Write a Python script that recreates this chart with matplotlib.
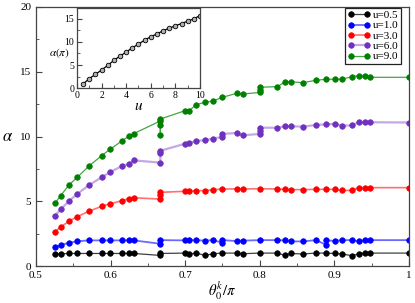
import matplotlib
matplotlib.use("Agg")
import matplotlib.pyplot as plt
from matplotlib.ticker import MultipleLocator

plt.rcParams['font.family'] = ['Liberation Serif', 'DejaVu Serif']
plt.rcParams['mathtext.fontset'] = 'stix'

# base theta_0^k / pi positions
theta = [0.5255, 0.533, 0.5446, 0.5554, 0.5706, 0.588, 0.599, 0.615, 0.6247, 0.631,
         0.6667, 0.6997, 0.7055, 0.7145, 0.727, 0.737, 0.75, 0.769, 0.777, 0.8,
         0.8235, 0.8338, 0.8418, 0.8575, 0.8753, 0.8887, 0.9004, 0.9098, 0.9236,
         0.9333, 0.941, 0.9477, 1.0]

labels = ['u=0.5', 'u=1.0', 'u=3.0', 'u=6.0', 'u=9.0']

# number of points sitting at the same theta (default 1)
rep_u05 = {0.6667: 2}
rep_u10 = {0.6667: 2, 0.75: 2, 0.8887: 2}
rep_u30 = {0.6667: 3}
rep_u60 = {0.6667: 3, 0.75: 2, 0.8: 3}
rep_u90 = {0.6667: 4, 0.8: 3}

alpha_u05 = [0.90, 0.95, 0.97, 0.97, 0.97, 0.97, 0.97, 0.97, 0.97, 0.97,
             0.82, 0.97,
             1.00, 0.93, 1.00, 0.82, 0.95, 1.00, 1.00, 0.95, 1.00, 1.00, 0.82,
             0.97, 0.93, 1.00, 1.00, 0.97, 0.93, 0.80, 0.95, 1.00, 1.00, 1.00]
alpha_u10 = [1.44, 1.62, 1.80, 1.91, 1.98, 1.98, 1.98, 1.98, 1.98, 1.98,
             1.72, 2.00,
             1.98, 2.00, 2.00, 1.96, 2.00, 1.80, 2.00, 1.93, 1.96, 2.00, 2.00,
             1.98, 1.90, 1.90, 2.00, 1.65, 2.00, 1.93, 2.00, 2.00, 1.90, 2.00,
             2.00, 2.00]
alpha_u30 = [2.65, 3.01, 3.47, 3.81, 4.22, 4.61, 4.79, 5.04, 5.20, 5.27,
             5.17, 5.48, 5.69,
             5.77, 5.77, 5.82, 5.82, 5.89, 5.95, 5.95, 5.95, 5.97, 5.95, 5.92,
             5.90, 5.90, 5.92, 5.92, 5.92, 5.84, 5.84, 6.05, 6.00, 6.05, 6.05]
alpha_u60 = [3.89, 4.37, 5.04, 5.56, 6.23, 6.85, 7.23, 7.72, 7.88, 8.16,
             7.98, 8.75, 8.90,
             9.44, 9.50, 9.65, 9.73, 9.83, 9.98, 10.20, 10.27, 10.09,
             10.20, 10.45, 10.68, 10.68, 10.78, 10.79, 10.76, 10.89, 10.94,
             10.97, 10.84, 10.86, 11.12, 11.10, 11.10, 11.08]
alpha_u90 = [4.84, 5.43, 6.28, 6.85, 7.70, 8.52, 9.00, 9.65, 10.04, 10.22,
             11.20, 10.09, 10.90, 11.35,
             11.99, 11.99, 12.46, 12.64, 12.74, 13.03, 13.33, 13.28,
             13.40, 13.60, 13.80, 13.85, 14.21, 14.23, 14.15, 14.34, 14.42,
             14.42, 14.42, 14.62, 14.70, 14.65, 14.57, 14.57]

# inset data: alpha(pi) vs u
u_inset = [0.5, 1.0, 1.5, 2.0, 2.5, 3.0, 3.5, 4.0, 4.5, 5.0,
           5.5, 6.0, 6.5, 7.0, 7.5, 8.0, 8.5, 9.0, 9.5, 10.0]
alpha_pi = [0.93, 2.07, 3.00, 3.93, 4.93, 6.00, 6.93, 7.79, 8.71, 9.50,
            10.36, 11.07, 11.71, 12.36, 12.93, 13.43, 13.93, 14.43, 14.93, 15.64]


def expand(base, reps):
    out = []
    for t in base:
        out.extend([t] * reps.get(t, 1))
    return out


series = [
    (expand(theta, rep_u05), alpha_u05, '#000000', '#404040', 0.9),
    (expand(theta, rep_u10), alpha_u10, '#0000ff', '#6a6aff', 1.3),
    (expand(theta, rep_u30), alpha_u30, '#ff0000', '#ff7070', 1.2),
    (expand(theta, rep_u60), alpha_u60, '#7030c0', '#c4a8e4', 1.6),
    (expand(theta, rep_u90), alpha_u90, '#008000', '#40a840', 0.9),
]

fig = plt.figure(figsize=(4.15, 3.03), dpi=100)
ax = fig.add_axes([0.0867, 0.122, 0.8988, 0.855])

for (x, y, mc, lc, lw), lab in zip(series, labels):
    ax.plot(x, y, '-', color=lc, lw=lw, marker='o', ms=4.0,
            mfc=mc, mec=mc, mew=0.5, label=lab)

ax.set_xlim(0.5, 1.0)
ax.set_ylim(0, 20)
ax.xaxis.set_major_locator(MultipleLocator(0.1))
ax.xaxis.set_minor_locator(MultipleLocator(0.05))
ax.yaxis.set_major_locator(MultipleLocator(5))
ax.yaxis.set_minor_locator(MultipleLocator(2.5))
ax.set_xticks([0.5, 0.6, 0.7, 0.8, 0.9, 1.0])
ax.set_xticklabels(['0.5', '0.6', '0.7', '0.8', '0.9', '1'])
ax.tick_params(which='both', direction='in', top=False, right=False,
               labelsize=8, color='#444444')
ax.tick_params(which='major', length=4)
ax.tick_params(which='minor', length=2)
for s in ax.spines.values():
    s.set_color('#444444')
    s.set_linewidth(0.9)

ax.set_xlabel(r'$\theta_0^k/\pi$', fontsize=10.5, labelpad=0)
ax.set_ylabel(r'$\alpha$', fontsize=12, rotation=0, ha='center', va='center')
ax.yaxis.set_label_coords(-0.077, 0.50)

leg = ax.legend(loc='upper right', fontsize=8, frameon=True, fancybox=False,
                edgecolor='#222222', framealpha=1, borderaxespad=0.05,
                bbox_to_anchor=(0.98, 1.0), labelspacing=0.05,
                handlelength=2.0, handletextpad=0.2, borderpad=0.25,
                numpoints=2)
leg.get_frame().set_linewidth(0.9)

# inset
axi = fig.add_axes([0.1855, 0.7086, 0.2964, 0.264])
axi.plot(u_inset, alpha_pi, '-', color='#000000', lw=0.9, marker='o', ms=3.3,
         mfc='#b0b0b0', mec='#000000', mew=0.6)
axi.set_xlim(0, 10)
axi.set_ylim(0, 17.2)
axi.xaxis.set_major_locator(MultipleLocator(2))
axi.xaxis.set_minor_locator(MultipleLocator(1))
axi.yaxis.set_major_locator(MultipleLocator(5))
axi.yaxis.set_minor_locator(MultipleLocator(2.5))
axi.tick_params(which='both', direction='in', top=False, right=False,
                labelsize=7, pad=2, color='#444444')
axi.tick_params(which='major', length=3.5)
axi.tick_params(which='minor', length=2)
for s in axi.spines.values():
    s.set_color('#444444')
    s.set_linewidth(0.9)
axi.set_xlabel(r'$u$', fontsize=11, labelpad=0)
axi.set_ylabel(r'$\alpha(\pi)$', fontsize=8, rotation=0, ha='center', va='center')
axi.yaxis.set_label_coords(-0.145, 0.44)

fig.savefig('out.png', dpi=100)
